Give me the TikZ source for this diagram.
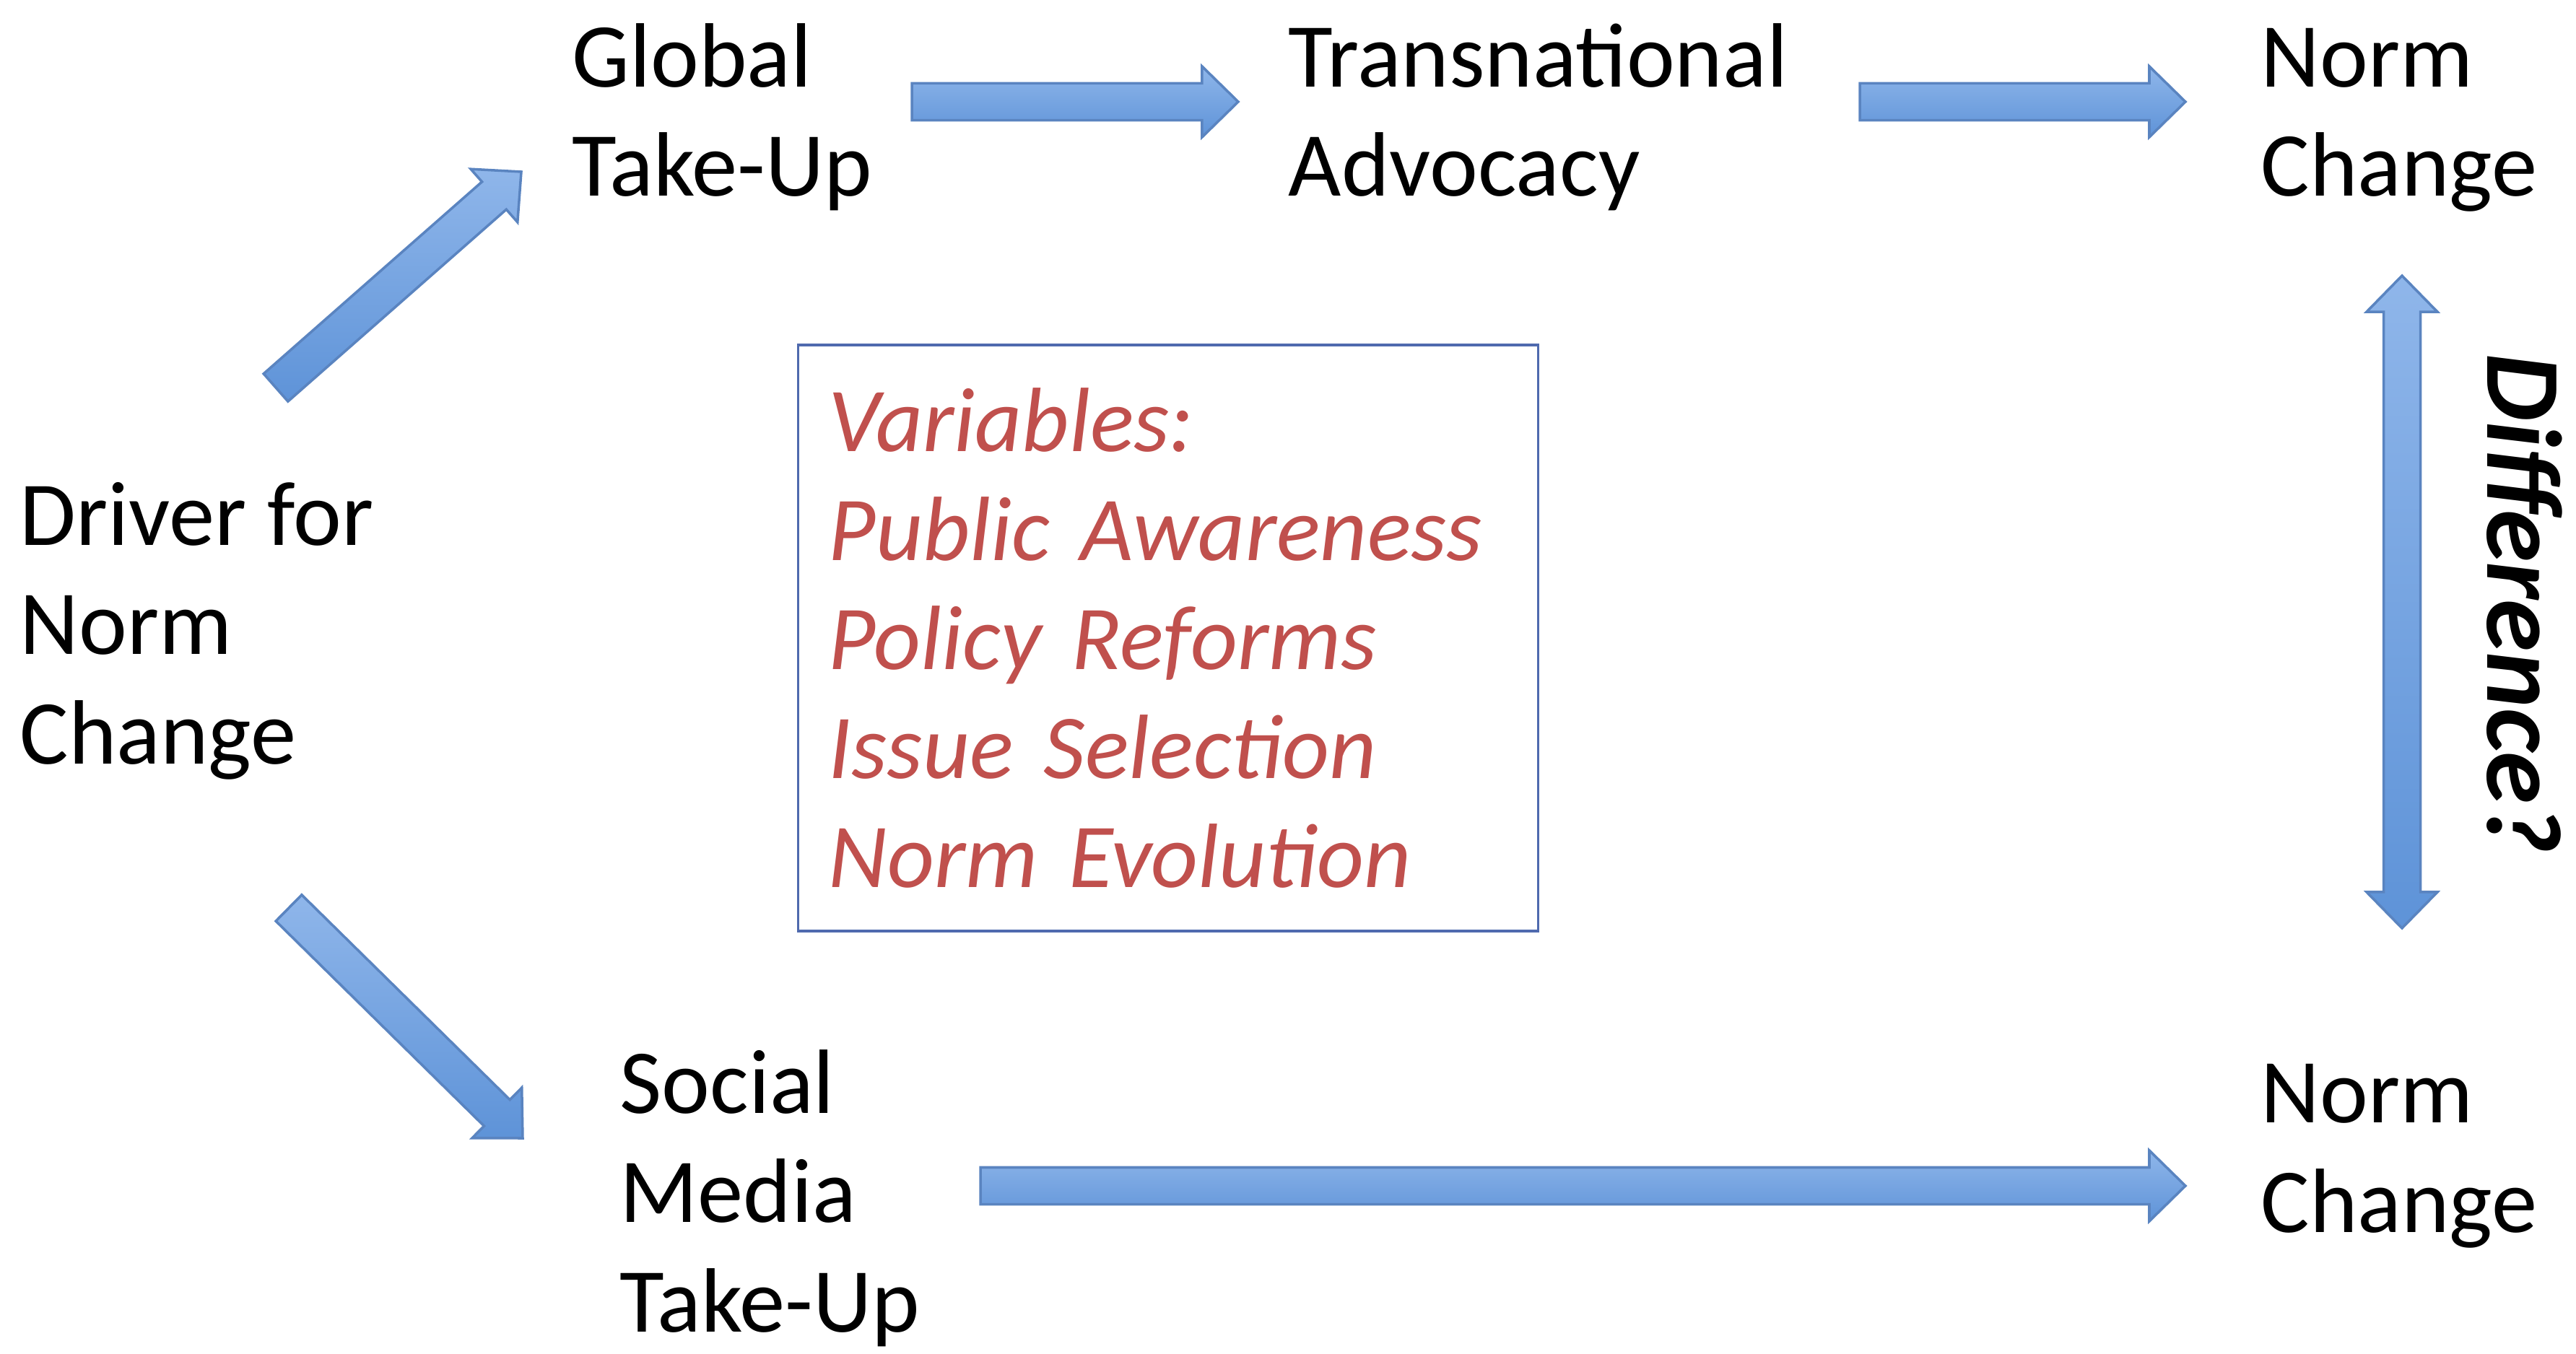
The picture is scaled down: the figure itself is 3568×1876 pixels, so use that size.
\documentclass[tikz,border=0pt]{standalone}
\usepackage{fontspec}
\setmainfont{Carlito}
\usepackage{xcolor}
\usetikzlibrary{calc,positioning}

\definecolor{arrowtop}{HTML}{8FB6EA}
\definecolor{arrowbot}{HTML}{5E93D8}
\definecolor{arrowline}{HTML}{5A84C0}
\definecolor{varred}{HTML}{C0504D}
\definecolor{boxblue}{HTML}{4F6AAE}

\newcommand{\shafthw}{0.255cm}
\newcommand{\headhw}{0.49cm}
\newcommand{\headlen}{0.5cm}

\tikzset{
  lbl/.style={font=\fontsize{36}{43}\selectfont, align=left, anchor=base west, inner sep=0pt},
  fatarrow/.style={draw=arrowline, line width=1pt, line join=miter, top color=arrowtop, bottom color=arrowbot},
  varbox/.style={draw=boxblue, line width=1pt, text=varred, font=\itshape\fontsize{36}{43}\selectfont,
    align=left, text width=9.4cm, minimum height=8.12cm, inner xsep=0.42cm, inner ysep=0pt}
}

\newcommand{\fatarrow}[2]{%
  \draw[fatarrow] let \p1=(#1), \p2=(#2), \n1={atan2(\y2-\y1,\x2-\x1)} in
    ($(\p1)+({\n1+90}:\shafthw)$) -- ($(\p2)+({\n1+180}:\headlen)+({\n1+90}:\shafthw)$)
    -- ($(\p2)+({\n1+180}:\headlen)+({\n1+90}:\headhw)$) -- (\p2)
    -- ($(\p2)+({\n1+180}:\headlen)+({\n1-90}:\headhw)$)
    -- ($(\p2)+({\n1+180}:\headlen)+({\n1-90}:\shafthw)$)
    -- ($(\p1)+({\n1-90}:\shafthw)$) -- cycle;}

\newcommand{\fatdarrow}[2]{%
  \draw[fatarrow] let \p1=(#1), \p2=(#2), \n1={atan2(\y2-\y1,\x2-\x1)} in
    (\p1) -- ($(\p1)+({\n1}:\headlen)+({\n1+90}:\headhw)$)
    -- ($(\p1)+({\n1}:\headlen)+({\n1+90}:\shafthw)$)
    -- ($(\p2)+({\n1+180}:\headlen)+({\n1+90}:\shafthw)$)
    -- ($(\p2)+({\n1+180}:\headlen)+({\n1+90}:\headhw)$) -- (\p2)
    -- ($(\p2)+({\n1+180}:\headlen)+({\n1-90}:\headhw)$)
    -- ($(\p2)+({\n1+180}:\headlen)+({\n1-90}:\shafthw)$)
    -- ($(\p1)+({\n1}:\headlen)+({\n1-90}:\shafthw)$)
    -- ($(\p1)+({\n1}:\headlen)+({\n1-90}:\headhw)$) -- cycle;}

\begin{document}
\begin{tikzpicture}[x=0.01cm, y=-0.01cm]
		\useasboundingbox (0,0) rectangle (3568,1876);
		\node[lbl] (glob) at (792,272) {Global\\Take-Up};
		\node[lbl] (trans) at (1784,272) {Transnational\\Advocacy};
		\node[lbl] (normtop) at (3131,272) {Norm\\Change};
		\node[lbl] (driver) at (27,1058) {Driver for\\Norm\\Change};
		\node[lbl] (social) at (858,1845) {Social\\Media\\Take-Up};
		\node[lbl] (normbot) at (3131,1707) {Norm\\Change};
		\node[varbox] (vars) at (1618,884) {Variables:\\Public Awareness\\Policy Reforms\\Issue Selection\\Norm Evolution};
		\node[rotate=-90, font=\bfseries\itshape\fontsize{42}{50}\selectfont] (diff) at (3497,836) {Difference?};
		\coordinate (a1s) at (1263,141);
		\coordinate (a1e) at (1715,141);
		\coordinate (a2s) at (2576,141);
		\coordinate (a2e) at (3027,141);
		\coordinate (a3s) at (382,537);
		\coordinate (a3e) at (722,238);
		\coordinate (a4s) at (400,1258);
		\coordinate (a4e) at (724,1577);
		\coordinate (a5s) at (1358,1643);
		\coordinate (a5e) at (3027,1643);
		\coordinate (a6s) at (3327,382);
		\coordinate (a6e) at (3327,1286);
		\fatarrow{a1s}{a1e}
		\fatarrow{a2s}{a2e}
		\fatarrow{a3s}{a3e}
		\fatarrow{a4s}{a4e}
		\fatarrow{a5s}{a5e}
		\fatdarrow{a6s}{a6e}
\end{tikzpicture}
\end{document}
